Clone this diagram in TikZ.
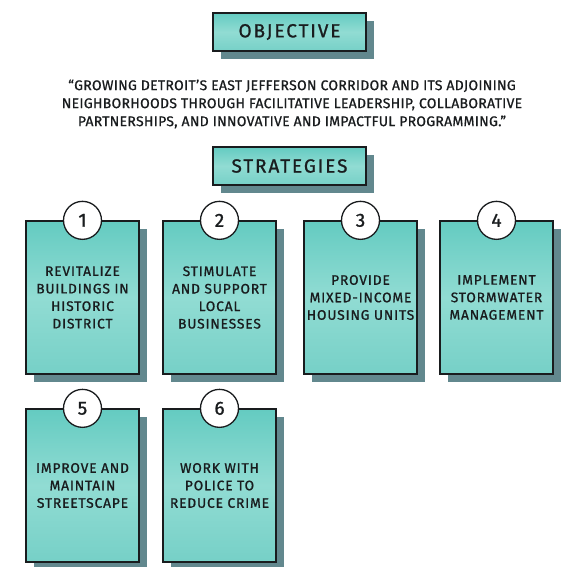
\documentclass[tikz,border=0pt]{standalone}
\usepackage{fontspec}
\setmainfont{Fira Sans}[FakeBold=1.0]
\newfontfamily\titlefont{Fira Sans}[FakeBold=1.0, LetterSpace=10]
\newfontfamily\quotefont{Fira Sans}[FakeBold=0.8, LetterSpace=2]
\newfontfamily\cardfont{Fira Sans}[FakeBold=1.0, LetterSpace=6]
\usetikzlibrary{shadows}
\definecolor{tealtop}{RGB}{100,203,193}
\definecolor{tealmid}{RGB}{145,220,211}
\definecolor{tealbot}{RGB}{118,208,199}
\definecolor{shadowc}{RGB}{98,136,142}
\definecolor{inkc}{RGB}{25,28,30}
\tikzset{
  dshadow/.style={drop shadow={shadow xshift=8pt, shadow yshift=-8pt, opacity=1, fill=shadowc}},
  wc/.style={top color=tealtop, bottom color=tealbot, middle color=tealmid},
  titlebox/.style={dshadow, wc, draw=inkc, line width=1.3pt, minimum width=153pt, minimum height=38pt,
    inner sep=0pt, font=\titlefont\fontsize{19}{22}\selectfont, text=inkc},
  card/.style={dshadow, wc, draw=inkc, line width=1.3pt, minimum width=113pt, minimum height=153pt,
    inner sep=0pt, align=center, font=\cardfont\fontsize{13.8}{17.5}\selectfont, text=inkc},
  numc/.style={circle, fill=white, draw=inkc, line width=1.3pt, minimum size=38pt, inner sep=0pt,
    font=\fontsize{19}{22}\selectfont, text=inkc},
  quote/.style={align=center, font=\quotefont\fontsize{14}{18}\selectfont, text=inkc}
}
\begin{document}
\begin{tikzpicture}[x=1pt,y=-1pt]
\useasboundingbox[fill=white] (0,0) rectangle (570,567);
\node[titlebox] (obj) at (289.5,32) {OBJECTIVE};
\node[quote] (q) at (292,104) {“GROWING DETROIT’S EAST JEFFERSON CORRIDOR AND ITS ADJOINING\\NEIGHBORHOODS THROUGH FACILITATIVE LEADERSHIP, COLLABORATIVE\\PARTNERSHIPS, AND INNOVATIVE AND IMPACTFUL PROGRAMMING.”};
\node[titlebox] (str) at (289.5,166) {STRATEGIES};
\node[card] (c1) at (82.5,297.5) {REVITALIZE\\BUILDINGS IN\\HISTORIC\\DISTRICT};
\node[card] (c2) at (219.5,297.5) {STIMULATE\\AND SUPPORT\\LOCAL\\BUSINESSES};
\node[card] (c3) at (360.5,297.5) {PROVIDE\\MIXED-INCOME\\HOUSING UNITS};
\node[card] (c4) at (496.5,297.5) {IMPLEMENT\\STORMWATER\\MANAGEMENT};
\node[card] (c5) at (82.5,485.5) {IMPROVE AND\\MAINTAIN\\STREETSCAPE};
\node[card] (c6) at (219.5,485.5) {WORK WITH\\POLICE TO\\REDUCE CRIME};
\foreach \i in {1,...,6} {\node[numc] (n\i) at (c\i.north) {\i};}
\end{tikzpicture}
\end{document}
